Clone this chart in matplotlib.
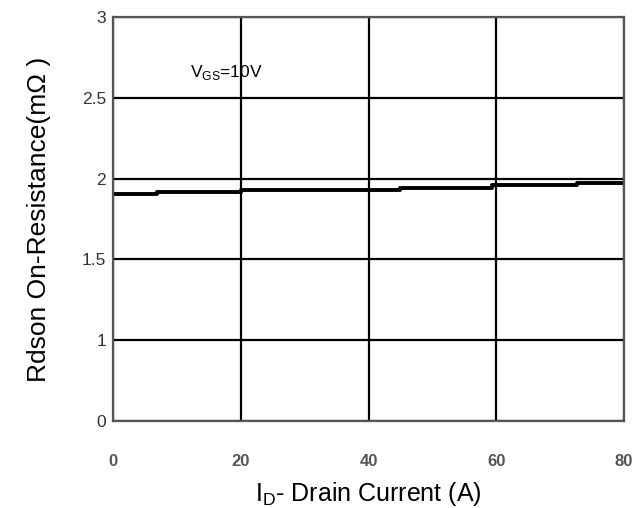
import numpy as np
import matplotlib
matplotlib.use('Agg')
import matplotlib.pyplot as plt

# drain current break points (A) and Rdson (mOhm), stepwise trace
current = [0, 6.9, 20, 31.6, 44.9, 59.3, 72.6, 80]
rdson = [1.907, 1.916, 1.929, 1.932, 1.94, 1.959, 1.971, 1.971]

xticks = [0, 20, 40, 60, 80]
yticks = [0, 1, 1.5, 2, 2.5, 3]
ytick_labels = ['0', '1', '1.5', '2', '2.5', '3']

# y axis of the datasheet puts the ticks at equal spacing
ypos = np.arange(len(yticks))
def fwd(v):
  return np.interp(v, yticks, ypos)
def inv(p):
  return np.interp(p, ypos, yticks)

fig = plt.figure(figsize=(6.36, 5.08), dpi=100)
ax = fig.add_axes([113/636, 1-421/508, 511/636, 404/508])
ax.set_yscale('function', functions=(fwd, inv))
ax.set_xlim(0, 80)
ax.set_ylim(0, 3)

ax.set_xticks(xticks)
ax.set_xticklabels([str(t) for t in xticks], fontfamily=['Liberation Sans Narrow', 'Liberation Sans'],
                   fontweight='bold', fontsize=12, color='#555555')
ax.set_yticks(yticks)
ax.set_yticklabels(ytick_labels, fontfamily='Liberation Sans', fontsize=12.5, color='#333333')
ax.tick_params(axis='both', length=0)
ax.tick_params(axis='x', pad=24)
ax.tick_params(axis='y', pad=5)

ax.grid(True, color='black', linewidth=1.6)
for s in ax.spines.values():
  s.set_color('#555555')
  s.set_linewidth(1.6)

ax.step(current, rdson, where='post', color='black', linewidth=2.8)

ax.text(12.0, 2.655, r'V$_{\mathregular{GS}}$=10V', fontfamily='Liberation Sans',
        fontsize=12.5, va='center')

ax.set_xlabel(r'I$_{\mathregular{D}}$- Drain Current (A)', fontfamily='Liberation Sans',
              fontsize=18, labelpad=8)
ax.set_ylabel('Rdson On-Resistance(m\u03a9 )', fontfamily='Liberation Sans',
              fontsize=19, labelpad=22)

fig.savefig('out.png', dpi=100)
